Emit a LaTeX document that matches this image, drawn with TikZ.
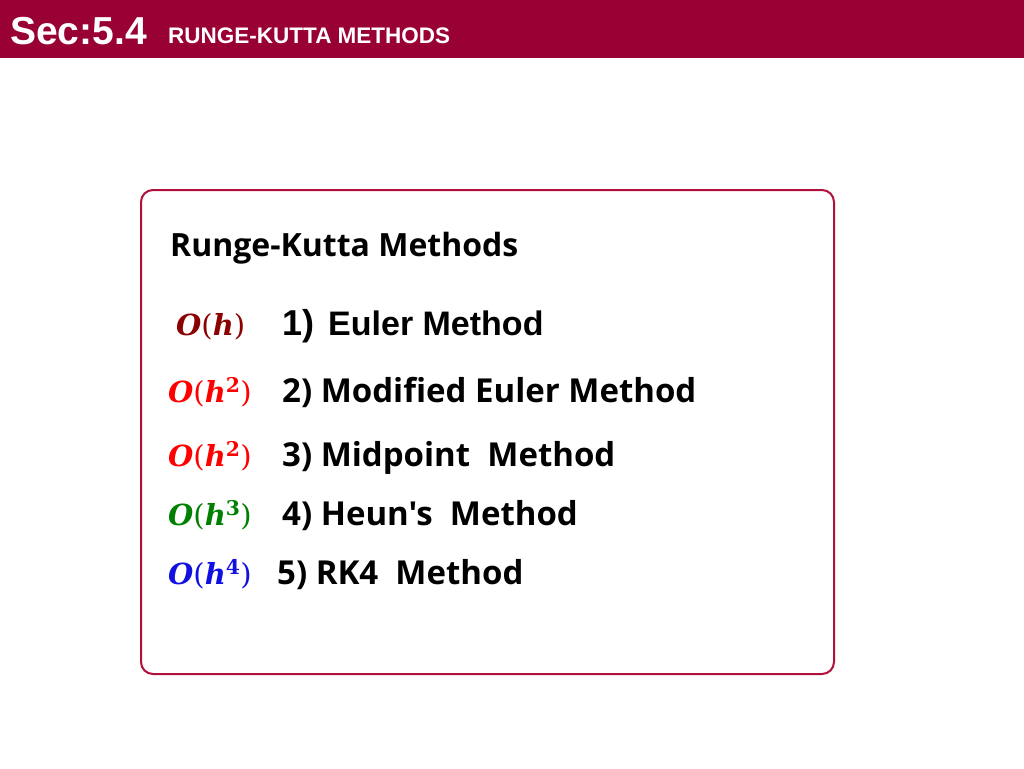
\documentclass[tikz,border=0pt]{standalone}
\usepackage{fontspec}
\setmainfont{Liberation Sans}
\newfontfamily\osans{Open Sans}
\newfontfamily\mathf{DejaVu Serif}
\definecolor{hdr}{HTML}{990033}
\definecolor{bx}{HTML}{B0103A}
\definecolor{dred}{HTML}{8B0000}
\definecolor{gr}{HTML}{008000}
\definecolor{bl}{HTML}{1010E0}
\newcommand{\ordr}[1]{\textbf{\itshape O}\textmd{(}\textbf{\itshape h}#1\textmd{)}}
\begin{document}
\begin{tikzpicture}[x=1pt,y=-1pt,
  txt/.style={anchor=base west,inner sep=0pt},
  ord/.style={txt,font=\mathf\fontsize{29}{31}\selectfont},
  item/.style={txt,font=\osans\bfseries\fontsize{33}{35}\selectfont}]
\useasboundingbox (0,0) rectangle (1024,768);
\fill[hdr] (0,0) rectangle (1024,58);
\node[txt,text=white,font=\fontsize{39}{41}\selectfont\bfseries] (sec) at (10,45) {Sec:5.4};
\node[txt,text=white,font=\fontsize{22.5}{24}\selectfont\bfseries] (ttl) at (168,44) {RUNGE-KUTTA METHODS};
\draw[bx,line width=2pt,rounded corners=12pt] (141,190) rectangle (834,674);
\node[item,font=\osans\bfseries\fontsize{32}{34}\selectfont] (h) at (170,256) {Runge-Kutta Methods};
\node[ord,text=dred] (o1) at (176,335) {\ordr{}};
\node[txt,font=\bfseries\fontsize{36}{38}\selectfont] (a1) at (282,335) {1)};
\node[txt,font=\bfseries\fontsize{34}{36}\selectfont] (b1) at (328,335) {Euler Method};
\node[ord,text=red] (o2) at (168,402) {\ordr{\textsuperscript{\bfseries 2}}};
\node[item] (i2) at (282,402) {2) Modified Euler Method};
\node[ord,text=red] (o3) at (168,466) {\ordr{\textsuperscript{\bfseries 2}}};
\node[item] (i3) at (282,466) {3) Midpoint\ \ Method};
\node[ord,text=gr] (o4) at (168,525) {\ordr{\textsuperscript{\bfseries 3}}};
\node[item] (i4) at (282,525) {4) Heun's\ \ Method};
\node[ord,text=bl] (o5) at (168,584) {\ordr{\textsuperscript{\bfseries 4}}};
\node[item] (i5) at (277,584) {5) RK4\ \ Method};
\end{tikzpicture}
\end{document}
